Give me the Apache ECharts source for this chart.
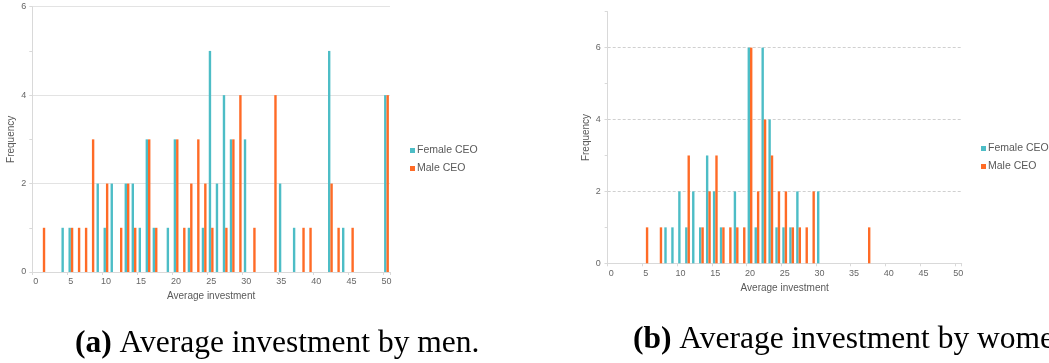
<!DOCTYPE html>
<html><head><meta charset="utf-8">
<script src="https://cdn.jsdelivr.net/npm/echarts@6/dist/echarts.min.js"></script>
<style>html,body{margin:0;padding:0;background:#fff}#c{width:1049px;height:363px}</style>
</head><body><div id="c"></div>
<script>
const categories = ['0','1','2','3','4','5','6','7','8','9','10','11','12','13','14','15','16','17','18','19','20','21','22','23','24','25','26','27','28','29','30','31','32','33','34','35','36','37','38','39','40','41','42','43','44','45','46','47','48','49','50'];
// (a) Average investment by men
const menFemaleCEO = [0,0,0,0,1,1,0,0,0,2, 1,2,0,2,2,1,3,1,0,1, 3,0,1,0,1,5,2,4,3,0, 3,0,0,0,0,2,0,1,0,0, 0,0,5,0,1,0,0,0,0,0, 4];
const menMaleCEO   = [0,1,0,0,0,1,1,1,3,0, 2,0,1,2,1,0,3,1,0,0, 3,1,2,3,2,1,0,1,3,4, 0,1,0,0,4,0,0,0,1,1, 0,0,2,1,0,1,0,0,0,0, 4];
// (b) Average investment by women
const womenFemaleCEO = [0,0,0,0,0,0,0,0,1,1, 2,1,2,1,3,2,1,0,2,0, 6,1,6,4,1,1,1,2,0,0, 2,0,0,0,0,0,0,0,0,0, 0,0,0,0,0,0,0,0,0,0, 0];
const womenMaleCEO   = [0,0,0,0,0,1,0,1,0,0, 0,3,0,1,2,3,1,1,1,1, 6,2,4,3,2,2,1,1,1,2, 0,0,0,0,0,0,0,1,0,0, 0,0,0,0,0,0,0,0,0,0, 0];
const seriesNames = ['Female CEO','Male CEO'];
const captionA = 'Average investment by men.';
const captionB = 'Average investment by women.';

const TEAL = '#4dbdc6', ORANGE = '#ff6b26';
const FONT = 'Liberation Sans, Arial, sans-serif';
const axisGray = '#d9d9d9';
const labelGray = '#666666';

const chart = echarts.init(document.getElementById('c'), null, {renderer:'canvas'});

function xAxis(gridIndex, margin, nameGap) {
  return {
    type:'category', gridIndex, data: categories, boundaryGap:true,
    axisLine:{show:true, lineStyle:{color:axisGray}},
    axisTick:{show:true, interval:4, length:3, lineStyle:{color:axisGray}},
    axisLabel:{interval:4, color:labelGray, fontSize:9, fontFamily:FONT, margin},
    name:'Average investment', nameLocation:'middle', nameGap,
    nameTextStyle:{color:'#595959', fontSize:10, fontFamily:FONT},
    splitLine:{show:false}
  };
}

const barCommon = {type:'bar', barWidth:2.4, barGap:'0%', animation:false};
const capStyle = {fontFamily:'Liberation Serif, serif', fontSize:31.5, fontWeight:'normal', color:'#000',
  rich:{b:{fontFamily:'Liberation Serif, serif', fontSize:31.5, fontWeight:'bold', color:'#000'}}};

const option = {
  animation:false,
  color:[TEAL, ORANGE],
  grid:[
    {left:32.3, right:659, top:6.7, bottom:91, containLabel:false},
    {left:607.7, right:87.3, top:11.7, bottom:99.7, containLabel:false}
  ],
  xAxis:[ xAxis(0, 5, 18), xAxis(1, 6, 18) ],
  yAxis:[
    {type:'value', gridIndex:0, min:0, max:6, interval:2,
     axisLine:{show:true, lineStyle:{color:axisGray}},
     axisTick:{show:true, length:3, lineStyle:{color:axisGray}},
     minorTick:{show:true, splitNumber:2, length:3, lineStyle:{color:axisGray}},
     splitLine:{show:true, lineStyle:{color:'#e3e3e3', width:1}},
     axisLabel:{color:labelGray, fontSize:9, fontFamily:FONT, margin:6},
     name:'Frequency', nameLocation:'middle', nameRotate:90, nameGap:16,
     nameTextStyle:{color:'#595959', fontSize:10, fontFamily:FONT}},
    {type:'value', gridIndex:1, min:0, max:7, interval:2,
     axisLine:{show:true, lineStyle:{color:axisGray}},
     axisTick:{show:true, length:3, lineStyle:{color:axisGray}},
     splitLine:{show:true, showMaxLine:false, lineStyle:{color:'#d0d0d0', type:[3,2], width:1}},
     axisLabel:{color:labelGray, fontSize:9, fontFamily:FONT, margin:7, showMaxLabel:false},
     name:'Frequency', nameLocation:'middle', nameRotate:90, nameGap:16,
     nameTextStyle:{color:'#595959', fontSize:10, fontFamily:FONT}},
    {type:'value', gridIndex:1, min:0, max:7, interval:1, position:'left', offset:0,
     axisLine:{show:false},
     axisTick:{show:true, length:3, lineStyle:{color:axisGray}},
     splitLine:{show:false}, axisLabel:{show:false}}
  ],
  legend:[
    {orient:'vertical', left:405, top:140, itemWidth:5, itemHeight:5, itemGap:7,
     icon:'rect', data:seriesNames,
     textStyle:{color:'#595959', fontSize:10.5, fontFamily:FONT, padding:[0,0,0,-3]}},
    {orient:'vertical', left:976, top:138, itemWidth:5, itemHeight:5, itemGap:7,
     icon:'rect', data:seriesNames,
     textStyle:{color:'#595959', fontSize:10.5, fontFamily:FONT, padding:[0,0,0,-3]}}
  ],
  title:[
    {text:'{b|(a)} ' + captionA, left:70, top:323, textStyle:capStyle},
    {text:'{b|(b)} ' + captionB, left:628, top:319, textStyle:capStyle}
  ],
  series:[
    Object.assign({}, barCommon, {name:seriesNames[0], xAxisIndex:0, yAxisIndex:0, data:menFemaleCEO, itemStyle:{color:TEAL}}),
    Object.assign({}, barCommon, {name:seriesNames[1], xAxisIndex:0, yAxisIndex:0, data:menMaleCEO, itemStyle:{color:ORANGE}}),
    Object.assign({}, barCommon, {name:seriesNames[0], xAxisIndex:1, yAxisIndex:1, data:womenFemaleCEO, itemStyle:{color:TEAL}}),
    Object.assign({}, barCommon, {name:seriesNames[1], xAxisIndex:1, yAxisIndex:1, data:womenMaleCEO, itemStyle:{color:ORANGE}})
  ]
};
chart.setOption(option);
</script>
</body></html>
